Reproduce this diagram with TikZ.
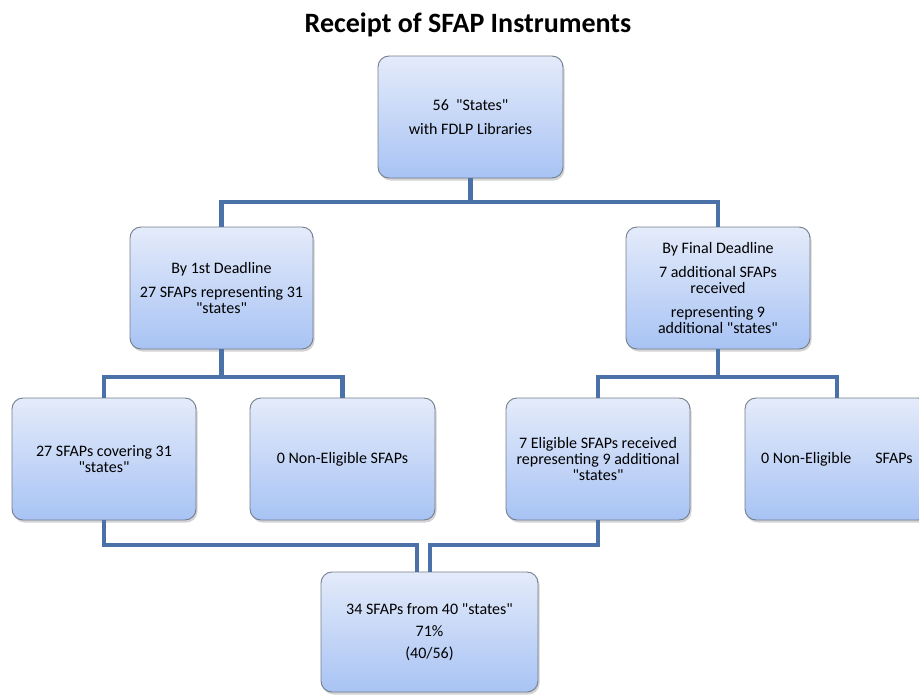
\documentclass[tikz,border=0pt]{standalone}
\usepackage{fontspec}
\setmainfont{Carlito}[Ligatures=TeXOff]
\usetikzlibrary{shadows,calc}
\definecolor{conn}{RGB}{74,114,168}
\definecolor{boxtop}{RGB}{228,235,250}
\definecolor{boxbot}{RGB}{168,195,244}
\definecolor{boxedge}{RGB}{115,125,140}
\tikzset{
  box/.style={draw=boxedge, line width=0.9pt, rounded corners=11pt,
    top color=boxtop, bottom color=boxbot,
    minimum width=184pt, minimum height=122pt, align=center,
    font=\fontsize{16}{16}\selectfont, inner sep=2pt,
    drop shadow={opacity=0.35, shadow xshift=1.5pt, shadow yshift=-2.5pt}},
  link/.style={draw=conn, line width=4.8pt},
}
\begin{document}
\begin{tikzpicture}[x=1pt,y=-1pt]
\useasboundingbox (0,0) rectangle (919,694);
\node[font=\bfseries\fontsize{28}{32}\selectfont, anchor=base, inner sep=0pt] (title) at (468,32) {Receipt of SFAP Instruments};

\node[box, minimum width=185pt] (top) at (470.5,117) {56\ \ "States"\\[8pt]with FDLP Libraries};
\node[box, minimum width=183pt] (L1) at (221.5,288) {By 1st Deadline\\[8pt]27 SFAPs representing 31\\"states"};
\node[box] (R1) at (718,288) {By Final Deadline\\[8pt]7 additional SFAPs\\received\\[8pt]representing 9\\additional "states"};

\node[box] (B1) at (104,459) {27 SFAPs covering 31\\"states"};
\node[box, minimum width=185pt] (B2) at (342.5,459) {0 Non-Eligible SFAPs};
\node[box] (B3) at (598,459) {7 Eligible SFAPs received\\representing 9 additional\\"states"};
\node[box] (B4) at (837,459) {0 Non-Eligible\hspace{24pt}SFAPs};

\node[box, minimum width=217pt, minimum height=120pt] (Bot) at (429.5,632) {34 SFAPs from 40 "states"\\[6pt]71\%\\[6pt](40/56)};

\coordinate (hub1) at (470.5,202);
\coordinate (hubL) at (221.5,377);
\coordinate (hubR) at (718,377);
\coordinate (j1) at (417,545);
\coordinate (j2) at (430,545);

\draw[link] (top.south) -- (hub1);
\draw[link] (L1.north) |- (hub1) -| (R1.north);
\draw[link] (L1.south) -- (hubL);
\draw[link] (B1.north) |- (hubL) -| (B2.north);
\draw[link] (R1.south) -- (hubR);
\draw[link] (B3.north) |- (hubR) -| (B4.north);
\draw[link] (B1.south) |- (j1) -- (j1 |- Bot.north);
\draw[link] (B3.south) |- (j2) -- (j2 |- Bot.north);
\end{tikzpicture}
\end{document}
